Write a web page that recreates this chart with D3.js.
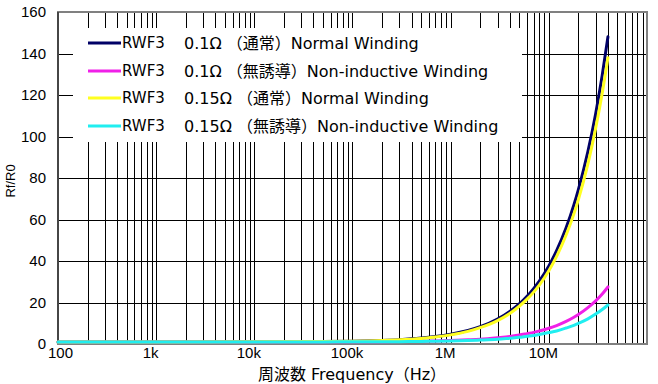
<!DOCTYPE html>
<html>
<head>
<meta charset="utf-8">
<script src="https://cdn.jsdelivr.net/npm/d3@7"></script>
<style>
  html, body { margin: 0; padding: 0; background: #fff; }
  svg { display: block; }
  text { white-space: pre; }
</style>
</head>
<body>
<svg id="chart" width="658" height="384"></svg>
<script>
// ---- data ----
const frequencies = [100, 1e3, 1e4, 5e4, 1e5, 2e5, 3e5, 5e5, 7e5, 1e6, 1.5e6, 2e6, 3e6, 4e6, 5e6, 6e6, 7e6, 8e6, 1e7, 1.2e7, 1.5e7, 1.8e7, 2e7, 2.5e7, 3e7, 3.5e7, 4e7];
const normal01        = [1, 1, 1.03, 1.18, 1.37, 1.73, 2.1, 2.85, 3.6, 4.7, 6.5, 8.3, 12, 15.7, 19.3, 23, 26.7, 30.3, 37.6, 45, 56, 67, 74.4, 92.7, 111, 129.5, 148];
const nonInductive01  = [1, 1, 1.01, 1.03, 1.07, 1.13, 1.2, 1.33, 1.46, 1.66, 2.0, 2.3, 3.0, 3.6, 4.3, 5.0, 5.6, 6.3, 7.6, 8.9, 10.9, 12.9, 14.2, 17.5, 20.8, 24.1, 27.5];
const normal015       = [1, 1, 1.03, 1.17, 1.34, 1.69, 2.03, 2.7, 3.4, 4.4, 6.1, 7.9, 11.3, 14.7, 18.2, 21.6, 25, 28.4, 35.3, 42.2, 52.5, 62.7, 69.6, 86.8, 104, 121, 138];
const nonInductive015 = [1, 1, 1.0, 1.02, 1.04, 1.09, 1.13, 1.22, 1.31, 1.45, 1.67, 1.9, 2.3, 2.8, 3.2, 3.7, 4.1, 4.6, 5.5, 6.3, 7.7, 9.0, 9.9, 12.1, 14.4, 16.6, 18.8];
const seriesModel = ["RWF3", "RWF3", "RWF3", "RWF3"];
const seriesLabels = [
  "0.1Ω （通常）Normal Winding",
  "0.1Ω （無誘導）Non-inductive Winding",
  "0.15Ω （通常）Normal Winding",
  "0.15Ω （無誘導）Non-inductive Winding"
];
const seriesColors = ["#000066", "#f020e8", "#ffff20", "#20eef0"];
const xTickValues = [100, 1e3, 1e4, 1e5, 1e6, 1e7];
const xTickLabels = ["100", "1k", "10k", "100k", "1M", "10M"];
const yTickValues = [0, 20, 40, 60, 80, 100, 120, 140, 160];

const seriesValues = [normal01, nonInductive01, normal015, nonInductive015];

// ---- layout ----
const mL = 58, mR = 647, mT = 12, mB = 344;
const svg = d3.select("#chart");
const x = d3.scaleLog().domain([100, 1e8]).range([mL, mR]);
const y = d3.scaleLinear().domain([0, 160]).range([mB, mT]);

svg.append("rect").attr("x", 0).attr("y", 0).attr("width", 658).attr("height", 384).attr("fill", "#fff");

// vertical grid (log minor lines)
const gridX = [];
for (let d = 100; d < 1e8; d *= 10) for (let k = 2; k <= 10; k++) gridX.push(d * k);
svg.append("g").selectAll("line").data(gridX.filter(v => v < 1e8)).join("line")
  .attr("x1", d => Math.round(x(d)) + 0.5).attr("x2", d => Math.round(x(d)) + 0.5)
  .attr("y1", mT).attr("y2", mB)
  .attr("stroke", "#000").attr("stroke-width", 1);

// horizontal grid
svg.append("g").selectAll("line").data(yTickValues.slice(1, -1)).join("line")
  .attr("x1", mL).attr("x2", mR)
  .attr("y1", d => Math.round(y(d)) + 0.5).attr("y2", d => Math.round(y(d)) + 0.5)
  .attr("stroke", "#000").attr("stroke-width", 1);

// legend background
svg.append("rect").attr("x", 73).attr("y", 28).attr("width", 449).attr("height", 114).attr("fill", "#fff");

// frame
svg.append("rect").attr("x", mL).attr("y", mT).attr("width", mR - mL).attr("height", mB - mT)
  .attr("fill", "none").attr("stroke", "#808080").attr("stroke-width", 2);
svg.append("line").attr("x1", mL).attr("x2", mL).attr("y1", mT).attr("y2", mB)
  .attr("stroke", "#333").attr("stroke-width", 1.5);

// curves
const line = d3.line().x(d => x(d[0])).y(d => y(d[1])).curve(d3.curveMonotoneX);
seriesValues.forEach((vals, i) => {
  svg.append("path")
    .datum(frequencies.map((f, j) => [f, vals[j]]))
    .attr("d", line)
    .attr("fill", "none")
    .attr("stroke", seriesColors[i])
    .attr("stroke-width", 3)
    .attr("stroke-linecap", "round");
});

// axes labels
const fontFam = "'DejaVu Sans', 'Noto Sans CJK JP', sans-serif";
const yAxis = d3.axisLeft(y).tickValues(yTickValues).tickSize(0).tickPadding(0).tickFormat(d3.format("d"));
const gy = svg.append("g").attr("transform", `translate(${mL - 12},0)`).call(yAxis);
gy.select(".domain").remove();
gy.selectAll("text").attr("font-family", "'Liberation Sans', Arial, sans-serif").attr("font-size", 15).attr("fill", "#000");

const xAxis = d3.axisBottom(x).tickValues(xTickValues).tickSize(0).tickPadding(0)
  .tickFormat((d, i) => xTickLabels[i]);
const gx = svg.append("g").attr("transform", `translate(0,${mB + 3})`).call(xAxis);
gx.select(".domain").remove();
gx.selectAll("text").attr("font-family", "'Liberation Sans', Arial, sans-serif").attr("font-size", 15).attr("fill", "#000")
  .attr("dx", (d, i) => i === 0 ? 2 : -6);

svg.append("text").attr("x", 352).attr("y", 380).attr("text-anchor", "middle")
  .attr("font-family", fontFam).attr("font-size", 16).attr("fill", "#000")
  .text("周波数 Frequency（Hz）");

svg.append("text").attr("transform", "translate(15,181) rotate(-90)").attr("text-anchor", "middle")
  .attr("font-family", "'Liberation Sans', Arial, sans-serif").attr("font-size", 13).attr("fill", "#000")
  .text("Rf/R0");

// legend
const legY = [43, 71, 98, 126];
seriesLabels.forEach((lab, i) => {
  svg.append("line").attr("x1", 88).attr("x2", 121).attr("y1", legY[i]).attr("y2", legY[i])
    .attr("stroke", seriesColors[i]).attr("stroke-width", 3);
  svg.append("text").attr("x", 122).attr("y", legY[i] + 5)
    .attr("font-family", fontFam).attr("font-size", 15).attr("fill", "#000").text(seriesModel[i]);
  svg.append("text").attr("x", 184).attr("y", legY[i] + 6)
    .attr("font-family", fontFam).attr("font-size", 16).attr("fill", "#000").text(lab);
});
</script>
</body>
</html>
